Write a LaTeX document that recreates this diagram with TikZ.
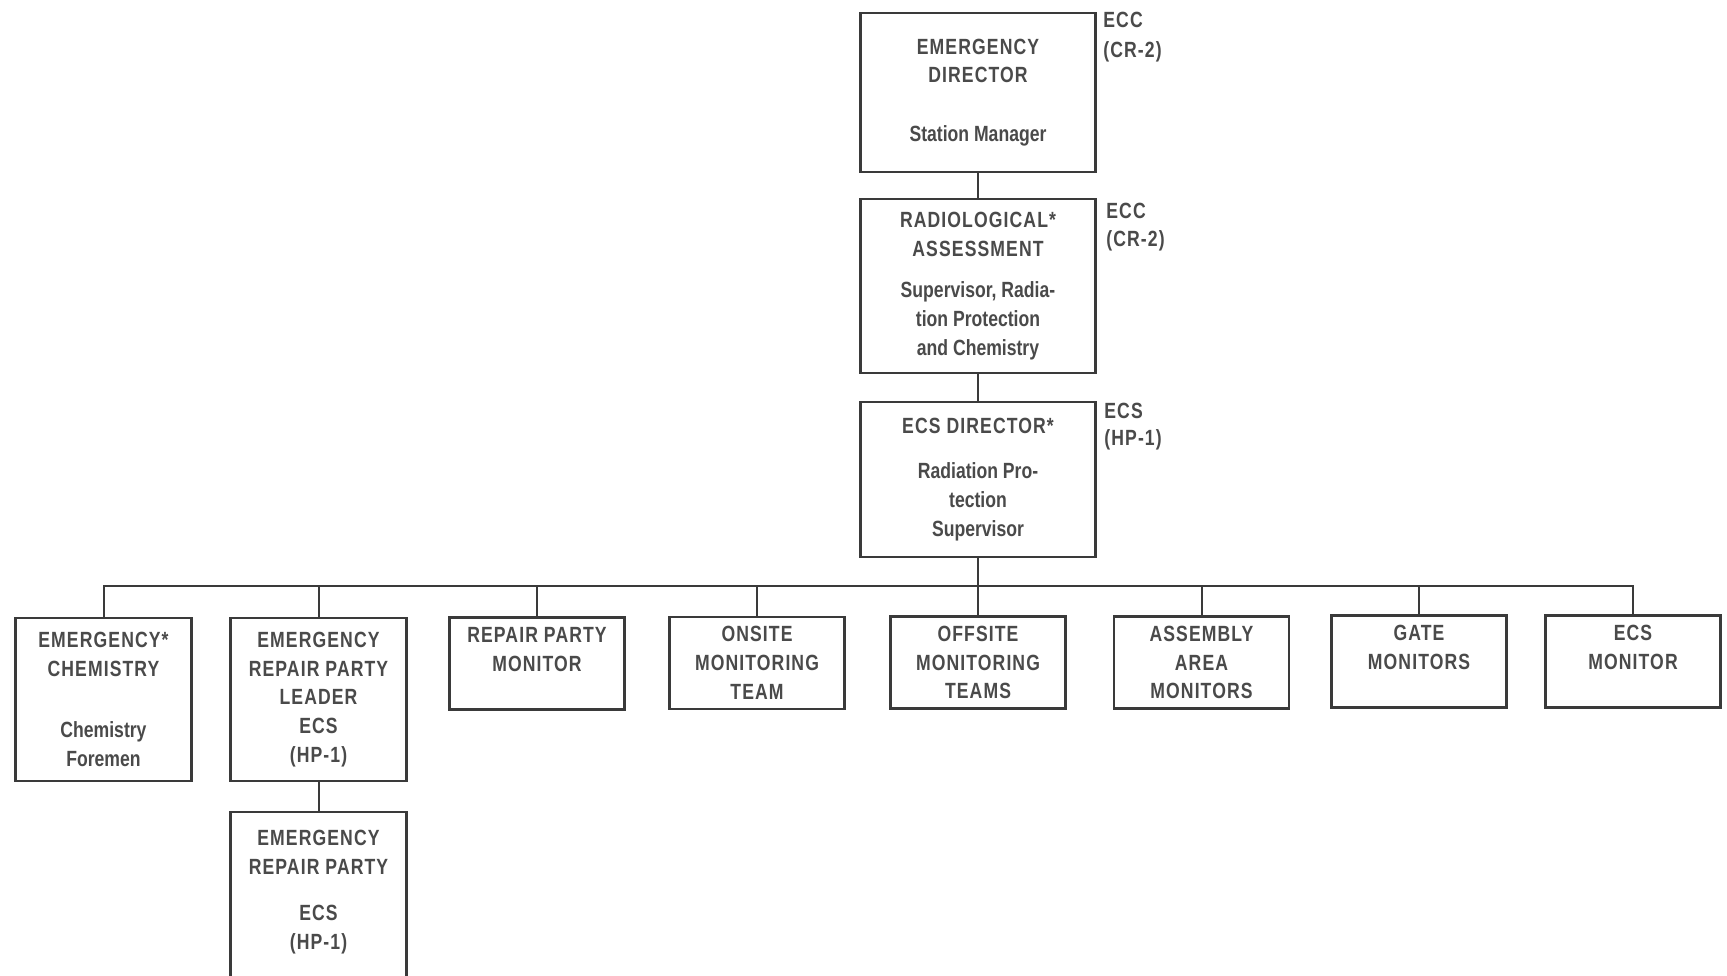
\documentclass[tikz,border=0pt]{standalone}
\usepackage{fontspec}
\newfontfamily\capf[FakeStretch=0.8,LetterSpace=5]{Liberation Sans}
\newfontfamily\lowf[FakeStretch=0.8]{Liberation Sans}
\newcommand\mx[1]{{\lowf\bfseries #1}}
\definecolor{ln}{HTML}{3A3A3A}
\definecolor{tx}{HTML}{4A4A4A}
\tikzset{
  box/.style={draw=ln, line width=1.3pt, rectangle, inner sep=0pt, align=center, text=tx,
    font=\capf\bfseries\fontsize{11}{14.4}\selectfont},
  topbox/.style={box, minimum width=117.5pt},
  botbox/.style={box, minimum width=87.5pt, minimum height=46pt},
  tallbox/.style={box, minimum width=88pt, minimum height=81.5pt},
  txt/.style={inner sep=0pt, align=center, text=tx, font=\capf\bfseries\fontsize{11}{14.4}\selectfont},
  side/.style={anchor=west, inner sep=0pt, text=tx, font=\capf\bfseries\fontsize{11}{14}\selectfont},
  conn/.style={draw=ln, line width=1pt},
}
\begin{document}
\begin{tikzpicture}[x=0.5pt,y=-0.5pt]
\useasboundingbox (0,0) rectangle (1727,975);
\clip (0,0) rectangle (1727,975);
\fill[white] (0,0) rectangle (1727,975);

% top chain
\node[topbox, minimum height=79.5pt] (ed) at (978,92.5)
  {EMERGENCY\\DIRECTOR\\[15pt]\mx{Station Manager}};
\node[topbox, minimum height=87pt] (ra) at (978,286)
  {RADIOLOGICAL*\\ASSESSMENT\\[6pt]\mx{Supervisor, Radia-}\\\mx{tion Protection}\\\mx{and Chemistry}};
\node[topbox, minimum height=77.5pt] (ecsd) at (978,479.5)
  {ECS DIRECTOR*\\[8pt]\mx{Radiation Pro-}\\\mx{tection}\\\mx{Supervisor}};

\node[side] (edl1) at (1103,20) {ECC};
\node[side] (edl2) at (1103,52) {(CR-2)};
\node[side] (ral1) at (1106,211) {ECC};
\node[side] (ral2) at (1106,241) {(CR-2)};
\node[side] (ecl1) at (1104,411) {ECS};
\node[side] (ecl2) at (1104,440) {(HP-1)};

% bottom row
\node[tallbox] (ec) at (103.5,699.5)
  {EMERGENCY*\\CHEMISTRY\\[16pt]\mx{Chemistry}\\\mx{Foremen}};
\node[tallbox] (erpl) at (318.5,699.5)
  {EMERGENCY\\REPAIR PARTY\\LEADER\\ECS\\(HP-1)};
\node[botbox] (rpm) at (537,663.5) {REPAIR PARTY\\MONITOR\\\phantom{M}};
\node[botbox] (onm) at (757,663) {ONSITE\\MONITORING\\TEAM};
\node[botbox] (ofm) at (978,662.5) {OFFSITE\\MONITORING\\TEAMS};
\node[botbox] (aam) at (1201.5,662.5) {ASSEMBLY\\AREA\\MONITORS};
\node[botbox] (gm) at (1419,661.5) {GATE\\MONITORS\\\phantom{M}};
\node[botbox] (ecsm) at (1633,661.5) {ECS\\MONITOR\\\phantom{M}};

% lower repair party box (runs past the bottom edge)
\node[box, minimum width=88pt, minimum height=94pt] (erp) at (318.5,906) {};
\node[txt] (erpt) at (318.5,892) {EMERGENCY\\REPAIR PARTY\\[9pt]ECS\\(HP-1)};

% connectors
\coordinate (bus) at (0,586);
\draw[conn] (ed.south) -- (ra.north);
\draw[conn] (ra.south) -- (ecsd.north);
\draw[conn] (ecsd.south) -- (ofm.north);
\draw[conn] (ec.north) -- (ec.north |- bus) -- (ecsm.north |- bus) -- (ecsm.north);
\foreach \b in {erpl,rpm,onm,aam,gm}{
  \draw[conn] (\b.north) -- (\b.north |- bus);
}
\draw[conn] (erpl.south) -- (erp.north);
\end{tikzpicture}
\end{document}
